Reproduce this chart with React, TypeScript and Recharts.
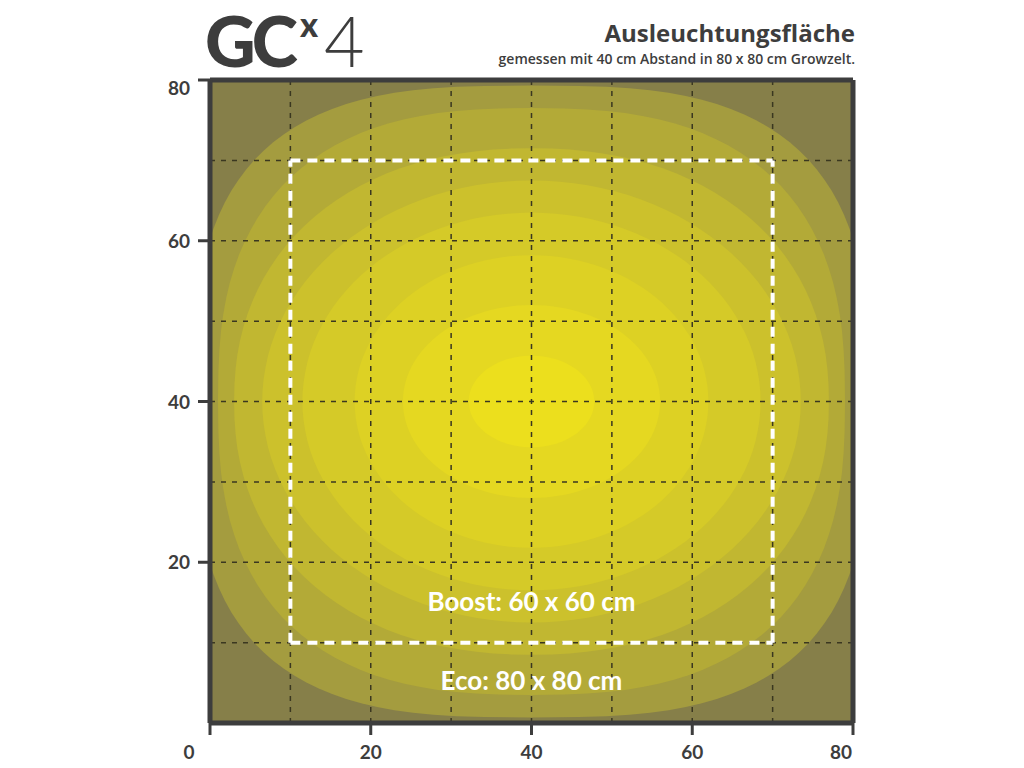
import { ComposedChart, XAxis, YAxis, ReferenceArea, ReferenceLine } from 'recharts';

// axis ticks and dashed grid (cm)
const xTicks = [0, 20, 40, 60, 80];
const yTicks = [20, 40, 60, 80];
const gridValues = [10, 20, 30, 40, 50, 60, 70];

// light spot centre and contour bands, outer to inner (half width / half height in cm)
const spotCenterX = 40;
const spotCenterY = 40;
const bandHalfWidth = [42, 39, 37, 33.5, 28.5, 22, 16, 7.8];
const bandHalfHeight = [39.3, 36.5, 31.5, 27.5, 23.5, 18.2, 12, 5.7];
const bandRoundness = [3, 2.6, 2.2, 2, 2, 2, 2, 2];
const bandColors = ['#a49c3f', '#b3aa37', '#c1b731', '#ccc12c', '#d5ca28', '#ddd124', '#e5d821', '#ecdf1d'];

// footprints
const ecoArea = [0, 80];
const boostArea = [10, 70];

const ink = '#3d3d3d';
const font = 'Lato, "Open Sans", sans-serif';
const titleFont = '"Open Sans", Lato, sans-serif';

// contour outline inside the box the axes give us
const makeBandShape = (n: number) => (p: any) => {
  const cx = p.x + p.width / 2;
  const cy = p.y + p.height / 2;
  const rx = Math.abs(p.width) / 2;
  const ry = Math.abs(p.height) / 2;
  let d = '';
  for (let k = 0; k <= 120; k++) {
    const t = (k / 120) * Math.PI * 2;
    const c = Math.cos(t);
    const s = Math.sin(t);
    const px = cx + rx * Math.sign(c) * Math.pow(Math.abs(c), 2 / n);
    const py = cy + ry * Math.sign(s) * Math.pow(Math.abs(s), 2 / n);
    d += `${k === 0 ? 'M' : 'L'}${px.toFixed(1)},${py.toFixed(1)}`;
  }
  return <path d={d + 'Z'} fill={p.fill} clipPath={p.clipPath} />;
};

const XTick = ({ x, y, payload }: any) => {
  const shift = payload.value === 0 ? -21 : payload.value === 80 ? -12 : 0;
  return (
    <text x={x + shift} y={y + 22} textAnchor="middle" fill={ink} fontSize={19} fontWeight={700} fontFamily={font}>
      {payload.value}
    </text>
  );
};

const YTick = ({ x, y, payload }: any) => (
  <text x={x - 6} y={y + 7 + (payload.value === 80 ? 8 : 0)} textAnchor="end" fill={ink} fontSize={19} fontWeight={700} fontFamily={font}>
    {payload.value}
  </text>
);

const boostSides = [
  [{ x: boostArea[0], y: boostArea[0] }, { x: boostArea[1], y: boostArea[0] }],
  [{ x: boostArea[0], y: boostArea[1] }, { x: boostArea[1], y: boostArea[1] }],
  [{ x: boostArea[0], y: boostArea[0] }, { x: boostArea[0], y: boostArea[1] }],
  [{ x: boostArea[1], y: boostArea[0] }, { x: boostArea[1], y: boostArea[1] }],
];

export default function App() {
  return (
    <div style={{ position: 'absolute', left: 0, top: 0, width: 1024, height: 768, background: '#fff' }}>
      <svg width={1024} height={768} style={{ position: 'absolute', left: 0, top: 0 }}>
        <text x={205} y={67} fill={ink} fontSize={70} fontWeight={900} fontFamily={font} letterSpacing={-4}>GC</text>
        <text x={300} y={37} fill={ink} fontSize={34} fontWeight={900} fontFamily={font}>x</text>
        <text x={324} y={67} fill={ink} fontSize={70} fontWeight={300} fontFamily={font}>4</text>
        <text x={855} y={42} textAnchor="end" fill={ink} fontSize={24} fontWeight={700} fontFamily={titleFont}>
          Ausleuchtungsfläche
        </text>
        <text x={855} y={64} textAnchor="end" fill={ink} fontSize={14} fontWeight={600} fontFamily={titleFont}>
          gemessen mit 40 cm Abstand in 80 x 80 cm Growzelt.
        </text>
      </svg>
      <div style={{ position: 'absolute', left: 0, top: 0 }}>
        <ComposedChart width={1024} height={768} data={[]} margin={{ top: 80, right: 171, bottom: 0, left: 150 }}>
          <XAxis
            type="number"
            dataKey="x"
            domain={[0, 80]}
            ticks={xTicks}
            interval={0}
            allowDataOverflow
            height={45}
            tickSize={12}
            axisLine={{ stroke: ink, strokeWidth: 5 }}
            tickLine={{ stroke: ink, strokeWidth: 3 }}
            tick={<XTick />}
          />
          <YAxis
            type="number"
            dataKey="y"
            domain={[0, 80]}
            ticks={yTicks}
            interval={0}
            allowDataOverflow
            width={60}
            tickSize={12}
            axisLine={{ stroke: ink, strokeWidth: 5 }}
            tickLine={{ stroke: ink, strokeWidth: 3 }}
            tick={<YTick />}
          />
          <ReferenceArea
            x1={ecoArea[0]}
            x2={ecoArea[1]}
            y1={ecoArea[0]}
            y2={ecoArea[1]}
            fill="#867f49"
            fillOpacity={1}
            ifOverflow="hidden"
          />
          {bandHalfWidth.map((hw, i) => (
            <ReferenceArea
              key={`band-${i}`}
              x1={spotCenterX - hw}
              x2={spotCenterX + hw}
              y1={spotCenterY - bandHalfHeight[i]}
              y2={spotCenterY + bandHalfHeight[i]}
              fill={bandColors[i]}
              ifOverflow="hidden"
              shape={makeBandShape(bandRoundness[i])}
            />
          ))}
          <ReferenceArea
            x1={ecoArea[0]}
            x2={ecoArea[1]}
            y1={ecoArea[0]}
            y2={boostArea[0]}
            fill="none"
            ifOverflow="hidden"
            label={{
              value: 'Eco: 80 x 80 cm',
              position: 'insideBottom',
              offset: 33,
              fill: '#ffffff',
              fontSize: 26,
              fontWeight: 700,
              fontFamily: font,
            }}
          />
          <ReferenceArea
            x1={boostArea[0]}
            x2={boostArea[1]}
            y1={boostArea[0]}
            y2={boostArea[1]}
            fill="none"
            ifOverflow="hidden"
            label={{
              value: 'Boost: 60 x 60 cm',
              position: 'insideBottom',
              offset: 32,
              fill: '#ffffff',
              fontSize: 26,
              fontWeight: 700,
              fontFamily: font,
            }}
          />
          {gridValues.map((v) => (
            <ReferenceLine key={`gx-${v}`} x={v} stroke="#3a3720" strokeWidth={1.5} strokeDasharray="5 6" />
          ))}
          {gridValues.map((v) => (
            <ReferenceLine key={`gy-${v}`} y={v} stroke="#3a3720" strokeWidth={1.5} strokeDasharray="5 6" />
          ))}
          {boostSides.map((seg, i) => (
            <ReferenceLine key={`boost-${i}`} segment={seg} stroke="#ffffff" strokeWidth={4} strokeDasharray="10 7" />
          ))}
          <ReferenceLine y={ecoArea[1]} stroke={ink} strokeWidth={5} />
          <ReferenceLine x={ecoArea[1]} stroke={ink} strokeWidth={5} />
        </ComposedChart>
      </div>
    </div>
  );
}
